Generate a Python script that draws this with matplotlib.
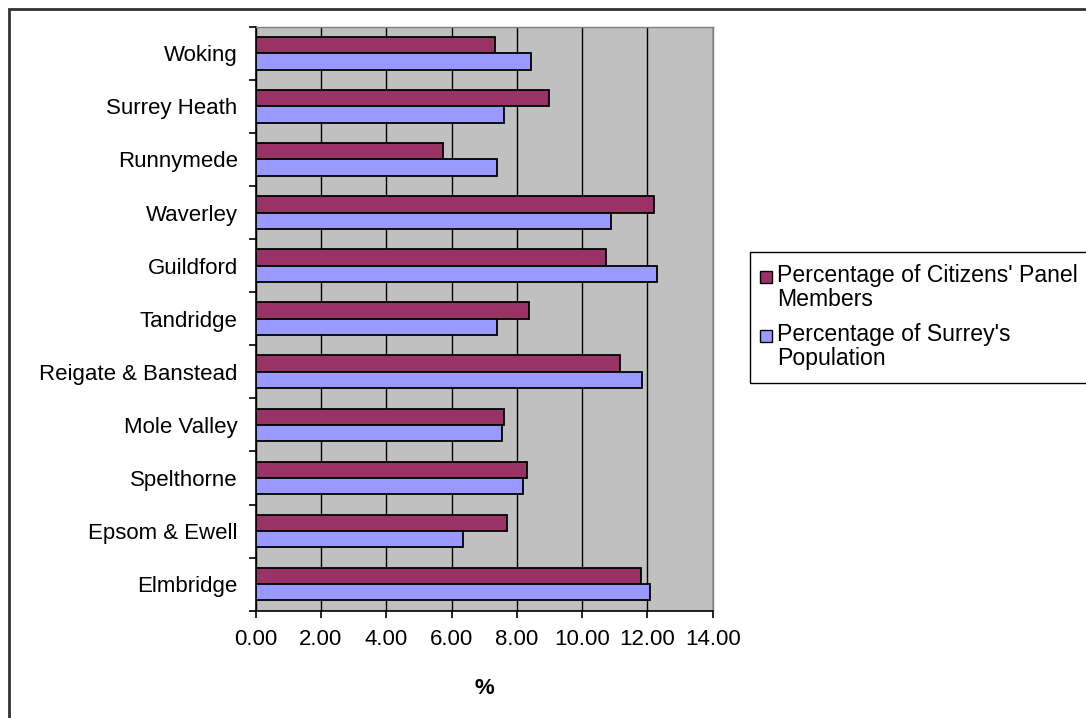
import numpy as np
import matplotlib

matplotlib.use("Agg")
import matplotlib.pyplot as plt
from matplotlib.patches import Rectangle

plt.rcParams["font.family"] = ["Liberation Sans", "DejaVu Sans"]

# Categories listed bottom to top, as drawn
districts = [
    "Elmbridge",
    "Epsom & Ewell",
    "Spelthorne",
    "Mole Valley",
    "Reigate & Banstead",
    "Tandridge",
    "Guildford",
    "Waverley",
    "Runnymede",
    "Surrey Heath",
    "Woking",
]
panel_pct = [11.81, 7.71, 8.32, 7.61, 11.16, 8.37, 10.72, 12.20, 5.75, 8.98, 7.33]
population_pct = [12.09, 6.34, 8.20, 7.56, 11.83, 7.38, 12.30, 10.89, 7.38, 7.61, 8.43]
x_ticks = [0, 2, 4, 6, 8, 10, 12, 14]

series_labels = [
    ["Percentage of Citizens' Panel", "Members"],
    ["Percentage of Surrey's", "Population"],
]
colors = ["#993366", "#9999FF"]

W, H = 1086, 718
fig = plt.figure(figsize=(W / 100, H / 100), dpi=100)


def fx(px):
    return px / W


def fy(py):
    # pixel rows counted from the top
    return 1 - py / H


# outer chart border (only top and left edges fall inside the image)
fig.patches.append(
    Rectangle((fx(9), -0.1), 1.2, fy(9) + 0.1, transform=fig.transFigure,
              fill=False, edgecolor="#333333", lw=2.0)
)

ax = fig.add_axes([fx(255.7), fy(610.7), 457 / W, 584 / H])
ax.set_facecolor("#C0C0C0")

y = np.arange(len(districts))
h = 0.307
ax.barh(y + h / 2, panel_pct, height=h, color=colors[0], edgecolor="black",
        lw=1.3, zorder=3)
ax.barh(y - h / 2, population_pct, height=h, color=colors[1], edgecolor="black",
        lw=1.3, zorder=3)

ax.set_xlim(0, 14)
ax.set_ylim(-0.5, len(districts) - 0.5)
ax.set_xticks(x_ticks)
ax.set_xticklabels([f"{v:.2f}" for v in x_ticks], fontsize=16)
ax.xaxis.grid(True, color="black", lw=1.0, zorder=1)
ax.set_axisbelow(True)

ax.set_yticks(y)
ax.set_yticklabels(districts, fontsize=16)
ax.set_yticks(np.arange(len(districts) + 1) - 0.5, minor=True)
ax.tick_params(axis="y", which="major", length=0, pad=13)
ax.tick_params(axis="y", which="minor", length=5, width=1.2, direction="out")
ax.tick_params(axis="x", length=5, width=1.2, direction="out", pad=8)

ax.set_xlabel("%", fontsize=16, fontweight="bold", labelpad=20)

for side in ("left", "bottom"):
    ax.spines[side].set_color("black")
    ax.spines[side].set_linewidth(1.2)
for side in ("top", "right"):
    ax.spines[side].set_color("#808080")
    ax.spines[side].set_linewidth(1.0)

# legend box, drawn by hand so the keys sit beside the first text line
fig.patches.append(
    Rectangle((fx(750), fy(383)), fx(1100) - fx(750), fy(252) - fy(383),
              transform=fig.transFigure, fill=False, edgecolor="black", lw=1.0)
)
baselines = [[282, 306], [341, 365]]
for color, lines, base in zip(colors, series_labels, baselines):
    fig.patches.append(
        Rectangle((fx(760), fy(base[0] + 1)), 12 / W, 12 / H,
                  transform=fig.transFigure, facecolor=color,
                  edgecolor="black", lw=1.0)
    )
    for text, b in zip(lines, base):
        fig.text(fx(777), fy(b), text, fontsize=16.6, ha="left", va="baseline")

fig.savefig("out.png", dpi=100)
